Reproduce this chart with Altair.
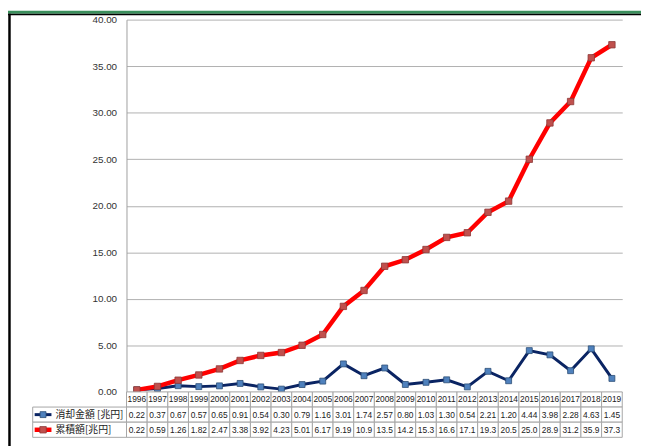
import altair as alt
import pandas as pd

years = ["1996", "1997", "1998", "1999", "2000", "2001", "2002", "2003",
         "2004", "2005", "2006", "2007", "2008", "2009", "2010", "2011",
         "2012", "2013", "2014", "2015", "2016", "2017", "2018", "2019"]
shokyaku = [0.22, 0.37, 0.67, 0.57, 0.65, 0.91, 0.54, 0.30, 0.79, 1.16, 3.01, 1.74,
            2.57, 0.80, 1.03, 1.30, 0.54, 2.21, 1.20, 4.44, 3.98, 2.28, 4.63, 1.45]
ruiseki = [0.22, 0.59, 1.26, 1.82, 2.47, 3.38, 3.92, 4.23, 5.01, 6.17, 9.19, 10.9,
           13.5, 14.2, 15.3, 16.6, 17.1, 19.3, 20.5, 25.0, 28.9, 31.2, 35.9, 37.3]
series_names = ["消却金額 [兆円]", "累積額[兆円]"]
y_ticks = [0, 5, 10, 15, 20, 25, 30, 35, 40]
rows = ["hdr", "b", "r"]

BLUE_LINE = "#0a2463"
BLUE_MARK = "#4f81bd"
RED_LINE = "#ff0000"
RED_MARK = "#c0504d"
GRID = "#b0b0b0"
CELL = "#a6a6a6"


def fmt(v):
    return f"{v:.2f}" if v < 10 else f"{v:.1f}"


df_b = pd.DataFrame({"year": years, "value": shokyaku})
df_r = pd.DataFrame({"year": years, "value": ruiseki})

cells = []
for i, yr in enumerate(years):
    cells.append({"year": yr, "row": "hdr", "label": yr})
    cells.append({"year": yr, "row": "b", "label": fmt(shokyaku[i])})
    cells.append({"year": yr, "row": "r", "label": fmt(ruiseki[i])})
df_cells = pd.DataFrame(cells)

df_leg = pd.DataFrame({"row": ["b", "r"], "label": series_names})
dummy = pd.DataFrame({"a": [0]})

xscale = alt.Scale(type="band", domain=years, paddingInner=0, paddingOuter=0)
x_c = alt.X("year:N", scale=xscale, axis=None, bandPosition=0.5)
x_band = alt.X("year:N", scale=xscale, axis=None)

y_enc = alt.Y(
    "value:Q",
    scale=alt.Scale(domain=[0, 40], nice=False, zero=True),
    axis=alt.Axis(values=y_ticks, format=".2f", ticks=False, labelPadding=10,
                  labelFont="Liberation Sans", labelFontSize=10, labelColor="#333333",
                  gridColor=GRID, gridWidth=1, domainColor="#a0a0a0", title=None),
)

tscale = alt.Scale(type="band", domain=rows, range=[377, 423], paddingInner=0, paddingOuter=0)
ty_band = alt.Y("row:N", scale=tscale, axis=None)
ty_c = alt.Y("row:N", scale=tscale, axis=None, bandPosition=0.5)

blue_line = alt.Chart(df_b).mark_line(color=BLUE_LINE, strokeWidth=3).encode(x=x_c, y=y_enc)
blue_pts = alt.Chart(df_b).mark_point(shape="square", filled=True, size=36, fill=BLUE_MARK,
                                       stroke="#2c4d75", strokeWidth=0.8, opacity=1).encode(x=x_c, y=y_enc)
red_line = alt.Chart(df_r).mark_line(color=RED_LINE, strokeWidth=4.5).encode(x=x_c, y=y_enc)
red_pts = alt.Chart(df_r).mark_point(shape="square", filled=True, size=42, fill=RED_MARK,
                                      stroke="#8c3836", strokeWidth=0.8, opacity=1).encode(x=x_c, y=y_enc)

plot = alt.layer(blue_line, blue_pts, red_line, red_pts)

cell_rect = alt.Chart(df_cells).mark_rect(fill="white", stroke=CELL, strokeWidth=1).encode(x=x_band, y=ty_band)
cell_text = alt.Chart(df_cells).mark_text(font="Liberation Sans", fontSize=8.5, color="#222222").encode(
    x=x_c, y=ty_c, text="label:N")

leg_rect = alt.Chart(df_leg).mark_rect(fill="white", stroke=CELL, strokeWidth=1).encode(
    x=alt.value(-95), x2=alt.value(0), y=ty_band)
leg_rule_b = alt.Chart(df_leg[df_leg.row == "b"]).mark_rule(color=BLUE_LINE, strokeWidth=3).encode(
    x=alt.value(-93), x2=alt.value(-76), y=ty_c)
leg_rule_r = alt.Chart(df_leg[df_leg.row == "r"]).mark_rule(color=RED_LINE, strokeWidth=4.5).encode(
    x=alt.value(-93), x2=alt.value(-76), y=ty_c)
leg_pt_b = alt.Chart(df_leg[df_leg.row == "b"]).mark_point(shape="square", filled=True, size=36, fill=BLUE_MARK,
                                                           stroke="#2c4d75", strokeWidth=0.8, opacity=1).encode(
    x=alt.value(-84.5), y=ty_c)
leg_pt_r = alt.Chart(df_leg[df_leg.row == "r"]).mark_point(shape="square", filled=True, size=42, fill=RED_MARK,
                                                           stroke="#8c3836", strokeWidth=0.8, opacity=1).encode(
    x=alt.value(-84.5), y=ty_c)
leg_text = alt.Chart(df_leg).mark_text(font="Noto Sans CJK JP", fontSize=10, color="#222222",
                                       align="left", dx=0).encode(
    x=alt.value(-72), y=ty_c, text="label:N")

table = alt.layer(cell_rect, cell_text, leg_rect, leg_rule_b, leg_rule_r, leg_pt_b, leg_pt_r, leg_text)

green_top = alt.Chart(dummy).mark_rule(color="#3a8f5c", strokeWidth=3).encode(
    x=alt.value(-120), x2=alt.value(521), y=alt.value(-7.5))
black_top = alt.Chart(dummy).mark_rule(color="#000000", strokeWidth=1.5).encode(
    x=alt.value(-120), x2=alt.value(521), y=alt.value(-5.3))
black_left = alt.Chart(dummy).mark_rule(color="#000000", strokeWidth=2.5).encode(
    x=alt.value(-118.5), y=alt.value(-6), y2=alt.value(440))

chart = alt.layer(plot, table, green_top, black_top, black_left).resolve_scale(y="independent").properties(
    width=502, height=377,
    autosize=alt.AutoSizeParams(type="none"),
    padding={"left": 120, "top": 9, "right": 19, "bottom": 52},
    background="white",
).configure_view(stroke=None)

chart.save("out.html", embed_options={"renderer": "svg", "actions": False})
